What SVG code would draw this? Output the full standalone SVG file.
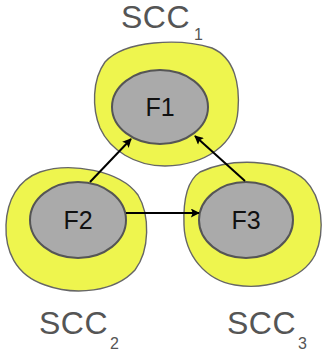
<svg xmlns="http://www.w3.org/2000/svg" width="325" height="356" viewBox="0 0 325 356">
  <style>
    .scc { fill: #eef54e; stroke: #666; stroke-width: 1.4; }
    .fn { fill: #aaaaaa; stroke: #555; stroke-width: 2; }
    .fl { font-family: "Liberation Sans", Arial, sans-serif; font-size: 25px; fill: #111; text-anchor: middle; }
    .cap { font-family: "Liberation Sans", Arial, sans-serif; font-size: 32px; fill: #555; letter-spacing: 0.5px; }
    .sub { font-family: "Liberation Sans", Arial, sans-serif; font-size: 16px; fill: #555; }
    .edge { stroke: #000; stroke-width: 2; fill: none; marker-end: url(#arr); }
  </style>
  <defs>
    <marker id="arr" viewBox="0 0 10 10" refX="9" refY="5" markerWidth="11" markerHeight="9" markerUnits="userSpaceOnUse" orient="auto">
      <path d="M0,0 L10,5 L0,10 L2,5 Z" fill="#000"/>
    </marker>
  </defs>

  <g id="scc1">
    <path class="scc" d="M105,62 C125,40 180,38 212,48 C235,58 240,85 238,110 C236,145 205,165 165,166 C135,166 110,150 100,128 C92,108 92,80 105,62 Z"/>
    <ellipse class="fn" cx="160" cy="107" rx="48" ry="37"/>
    <text class="fl" x="160" y="116">F1</text>
    <text class="cap" x="121" y="28">SCC</text>
    <text class="sub" x="194" y="40">1</text>
  </g>

  <g id="scc2">
    <path class="scc" d="M40,172 C70,162 120,170 138,195 C150,215 150,250 135,270 C115,292 75,296 45,285 C15,275 5,250 6,225 C7,200 18,180 40,172 Z"/>
    <ellipse class="fn" cx="78" cy="220" rx="48" ry="38"/>
    <text class="fl" x="78" y="229">F2</text>
    <text class="cap" x="39" y="334">SCC</text>
    <text class="sub" x="110" y="349">2</text>
  </g>

  <g id="scc3">
    <path class="scc" d="M200,172 C230,158 280,158 305,180 C322,197 326,230 315,255 C302,280 265,290 235,285 C205,280 185,255 184,225 C183,200 188,180 200,172 Z"/>
    <ellipse class="fn" cx="246" cy="220" rx="47" ry="38"/>
    <text class="fl" x="246" y="229">F3</text>
    <text class="cap" x="227" y="334">SCC</text>
    <text class="sub" x="298" y="349">3</text>
  </g>

  <g id="connectors">
    <line class="edge" x1="90" y1="182" x2="131" y2="139"/>
    <line class="edge" x1="245" y1="181" x2="195" y2="136"/>
    <line class="edge" x1="126" y1="213" x2="199" y2="213"/>
  </g>
</svg>
